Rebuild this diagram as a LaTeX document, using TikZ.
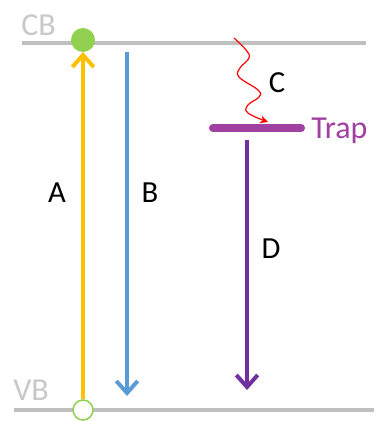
\documentclass[tikz,border=0pt]{standalone}
\usepackage{fontspec}
\setmainfont{Carlito}
\usetikzlibrary{arrows.meta}
\definecolor{bandgray}{HTML}{BFBFBF}
\definecolor{labgray}{HTML}{C8C8C8}
\definecolor{ayellow}{HTML}{FFC000}
\definecolor{bblue}{HTML}{5B9BD5}
\definecolor{dpurple}{HTML}{7030A0}
\definecolor{trappurple}{HTML}{A040A0}
\definecolor{egreen}{HTML}{92D050}
\tikzset{
  band/.style={draw=bandgray, line width=4.5pt*0.75},
  lbl/.style={font=\fontsize{23}{23}\selectfont, text=black, inner sep=0pt, anchor=base},
  bandlbl/.style={font=\fontsize{24}{24}\selectfont, text=labgray, inner sep=0pt, anchor=base west},
  trans/.style={line width=3.5pt*0.75, -{Straight Barb[length=9pt, width=16pt, line width=3pt]}},
}
\begin{document}
\begin{tikzpicture}[x=0.75pt, y=-0.75pt]
\useasboundingbox (0,0) rectangle (382,421);
% bands
\coordinate (cbL) at (22,43); \coordinate (cbR) at (366,43);
\coordinate (vbL) at (14,410); \coordinate (vbR) at (374,410);
\draw[band] (cbL) -- (cbR);
\draw[band] (vbL) -- (vbR);
\node[bandlbl] (cb) at (21,35) {CB};
\node[bandlbl] (vb) at (13,400) {VB};
% electron and hole
\node[circle, fill=egreen, minimum size=24pt*0.75, inner sep=0pt] (e) at (83,40) {};
\node[circle, draw=egreen, fill=white, line width=1.5pt*0.75, minimum size=20pt*0.75, inner sep=0pt] (h) at (83,410) {};
% A
\coordinate (aTip) at (83,52);
\draw[trans, draw=ayellow] (h.north) -- (aTip);
\node[lbl] (A) at (57,202) {A};
% B
\coordinate (bS) at (127,52); \coordinate (bE) at (127,396);
\draw[trans, draw=bblue] (bS) -- (bE);
\node[lbl] (B) at (150,202) {B};
% trap
\coordinate (tL) at (213,128); \coordinate (tR) at (301,128);
\draw[draw=trappurple, line width=8pt*0.75, line cap=round] (tL) -- (tR);
\node[font=\fontsize{24}{24}\selectfont, text=trappurple, anchor=base west, inner sep=0pt] (trap) at (311,138) {Trap};
% C
\draw[red, line width=1.2pt*0.75, -{Stealth[length=6pt, width=6pt]}]
  plot[smooth, tension=0.7] coordinates {(234,38) (246,50) (249,58) (240,68) (239,77) (258,90) (259,97) (248,105) (248,113) (268,122)};
\node[lbl] (C) at (277,92) {C};
% D
\coordinate (dS) at (247,140); \coordinate (dE) at (247,390);
\draw[trans, draw=dpurple] (dS) -- (dE);
\node[lbl] (D) at (271,258) {D};
\end{tikzpicture}
\end{document}
